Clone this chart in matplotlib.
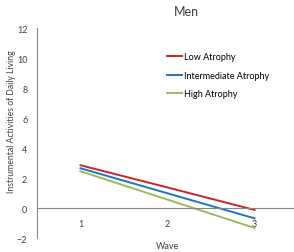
import matplotlib
matplotlib.use("Agg")
import matplotlib.pyplot as plt

waves = [1, 2, 3]
wave_labels = ["1", "2", "3"]
low_atrophy = [2.85, 1.37, -0.13]
intermediate_atrophy = [2.65, 0.98, -0.69]
high_atrophy = [2.45, 0.56, -1.33]
y_ticks = [-2, 0, 2, 4, 6, 8, 10, 12]

plt.rcParams['font.family'] = ['Lato', 'DejaVu Sans']

fig = plt.figure(figsize=(2.94, 2.53), dpi=100)
ax = fig.add_axes([0.126, 0.0553, 0.874, 0.8300])

ax.plot(waves, low_atrophy, color="#C8252C", lw=1.4, label="Low Atrophy")
ax.plot(waves, intermediate_atrophy, color="#1F74C2", lw=1.4, label="Intermediate Atrophy")
ax.plot(waves, high_atrophy, color="#9BBB59", lw=1.4, label="High Atrophy")

ax.set_xlim(0.5, 3.454)
ax.set_ylim(-2, 12)
ax.set_yticks(y_ticks)
ax.set_xticks(waves)
ax.set_xticklabels(wave_labels)

for s in ["top", "right"]:
    ax.spines[s].set_visible(False)
ax.spines["left"].set_color("#868686")
ax.spines["bottom"].set_color("#868686")
ax.spines["bottom"].set_position(("data", 0))
ax.tick_params(axis="both", length=0, labelsize=6.5, colors="#404040")
ax.tick_params(axis="y", pad=7)
ax.tick_params(axis="x", pad=8)

# axis titles placed like the original
fig.text(0.038, 0.518, "Instrumental Activities of Daily Living", fontsize=6.2,
         color="#404040", rotation=90, ha="center", va="center")
fig.text(0.571, 0.025, "Wave", fontsize=6.5, color="#404040", ha="center", va="center")
fig.text(0.633, 0.952, "Men", fontsize=9, color="#404040", ha="center", va="center")

ax.legend(loc="upper left", bbox_to_anchor=(0.488, 0.905), frameon=False, fontsize=6.5,
          handlelength=1.7, handletextpad=0.2, labelspacing=1.05, borderpad=0)

fig.savefig("out.png", dpi=100)
